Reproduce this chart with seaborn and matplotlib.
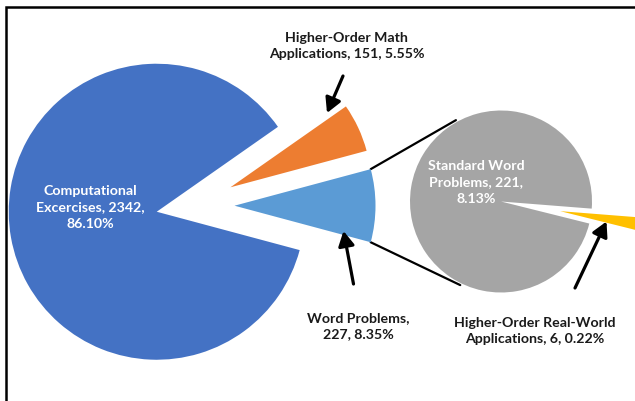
import numpy as np
import matplotlib
matplotlib.use("Agg")
import matplotlib.pyplot as plt
import seaborn as sns
from matplotlib.patches import Rectangle

# Main pie: all problem types
main_names = ["Computational Excercises", "Higher-Order Math Applications", "Word Problems"]
main_counts = [2342, 151, 227]
main_pcts = [86.10, 5.55, 8.35]

# Secondary pie: breakdown of word problems
sub_names = ["Standard Word Problems", "Higher-Order Real-World Applications"]
sub_counts = [221, 6]
sub_pcts = [8.13, 0.22]

main_colors = ["#4472C4", "#ED7D31", "#5B9BD5"]
sub_colors = ["#A5A5A5", "#FFC000"]

sns.set_theme(style="white")
plt.rcParams["font.family"] = ["Lato", "DejaVu Sans"]

W, H = 635, 401
fig = plt.figure(figsize=(W / 100, H / 100), dpi=100)
ax = fig.add_axes([0, 0, 1, 1])

# main pie, word-problems slice centred on 0 degrees (explode is in pixels here)
word_angle = main_counts[2] / sum(main_counts) * 360
wedges, _ = ax.pie(main_counts, colors=main_colors, center=(191, H - 205.7), radius=148,
                   explode=[34.8, 43.5, 43.5], startangle=-word_angle / 2,
                   counterclock=False, wedgeprops=dict(linewidth=0))
wedges[1].set_radius(141)
wedges[2].set_radius(141)

# secondary pie
sub_c = (501, H - 201.5)
sub_wedges, _ = ax.pie(sub_counts, colors=sub_colors, center=sub_c, radius=91,
                       explode=[0, 60], startangle=-4.5,
                       wedgeprops=dict(linewidth=0))

# connector lines from the word problems slice to the secondary pie
lb = wedges[2]
for ang_main, ang_sub in [(lb.theta2, 119), (lb.theta1, -116)]:
    x0 = lb.center[0] + lb.r * np.cos(np.radians(ang_main))
    y0 = lb.center[1] + lb.r * np.sin(np.radians(ang_main))
    x1 = sub_c[0] + 93 * np.cos(np.radians(ang_sub))
    y1 = sub_c[1] + 93 * np.sin(np.radians(ang_sub))
    ax.plot([x0, x1], [y0, y1], color="black", lw=1.6, zorder=0)

ax.set_xlim(0, W)
ax.set_ylim(0, H)
ax.set_axis_off()

# labels
lab = dict(fontsize=10.2, fontweight="bold", ha="center", va="center", linespacing=1.45)
ax.text(90, H - 207.5,
        f"Computational\nExcercises, {main_counts[0]},\n{main_pcts[0]:.2f}%",
        color="white", **lab)
ax.text(346.5, H - 46,
        f"Higher-Order Math\nApplications, {main_counts[1]}, {main_pcts[1]:.2f}%",
        color="#1a1a1a", **lab)
ax.text(358.5, H - 326,
        f"Word Problems,\n{main_counts[2]}, {main_pcts[2]:.2f}%",
        color="#1a1a1a", **lab)
ax.text(476, H - 182.3,
        f"Standard Word\nProblems, {sub_counts[0]},\n{sub_pcts[0]:.2f}%",
        color="white", **lab)
ax.text(535, H - 331,
        f"Higher-Order Real-World\nApplications, {sub_counts[1]}, {sub_pcts[1]:.2f}%",
        color="#1a1a1a", **lab)

# arrows
arrow = dict(arrowstyle="-|>,head_length=0.55,head_width=0.3", lw=2.3, color="black",
             mutation_scale=16, shrinkA=0, shrinkB=0)
for tail, tip in [((343, 76), (327, 113)), ((353.5, 284), (343.5, 231)),
                  ((575, 288), (606.5, 221.5))]:
    ax.annotate("", xy=(tip[0], H - tip[1]), xytext=(tail[0], H - tail[1]), arrowprops=arrow)

# frame edge (only left and top visible)
ax.add_patch(Rectangle((6, -20), 700, H - 6.5 + 20, fill=False, lw=1.8, edgecolor="black"))

fig.savefig("out.png", dpi=100)
